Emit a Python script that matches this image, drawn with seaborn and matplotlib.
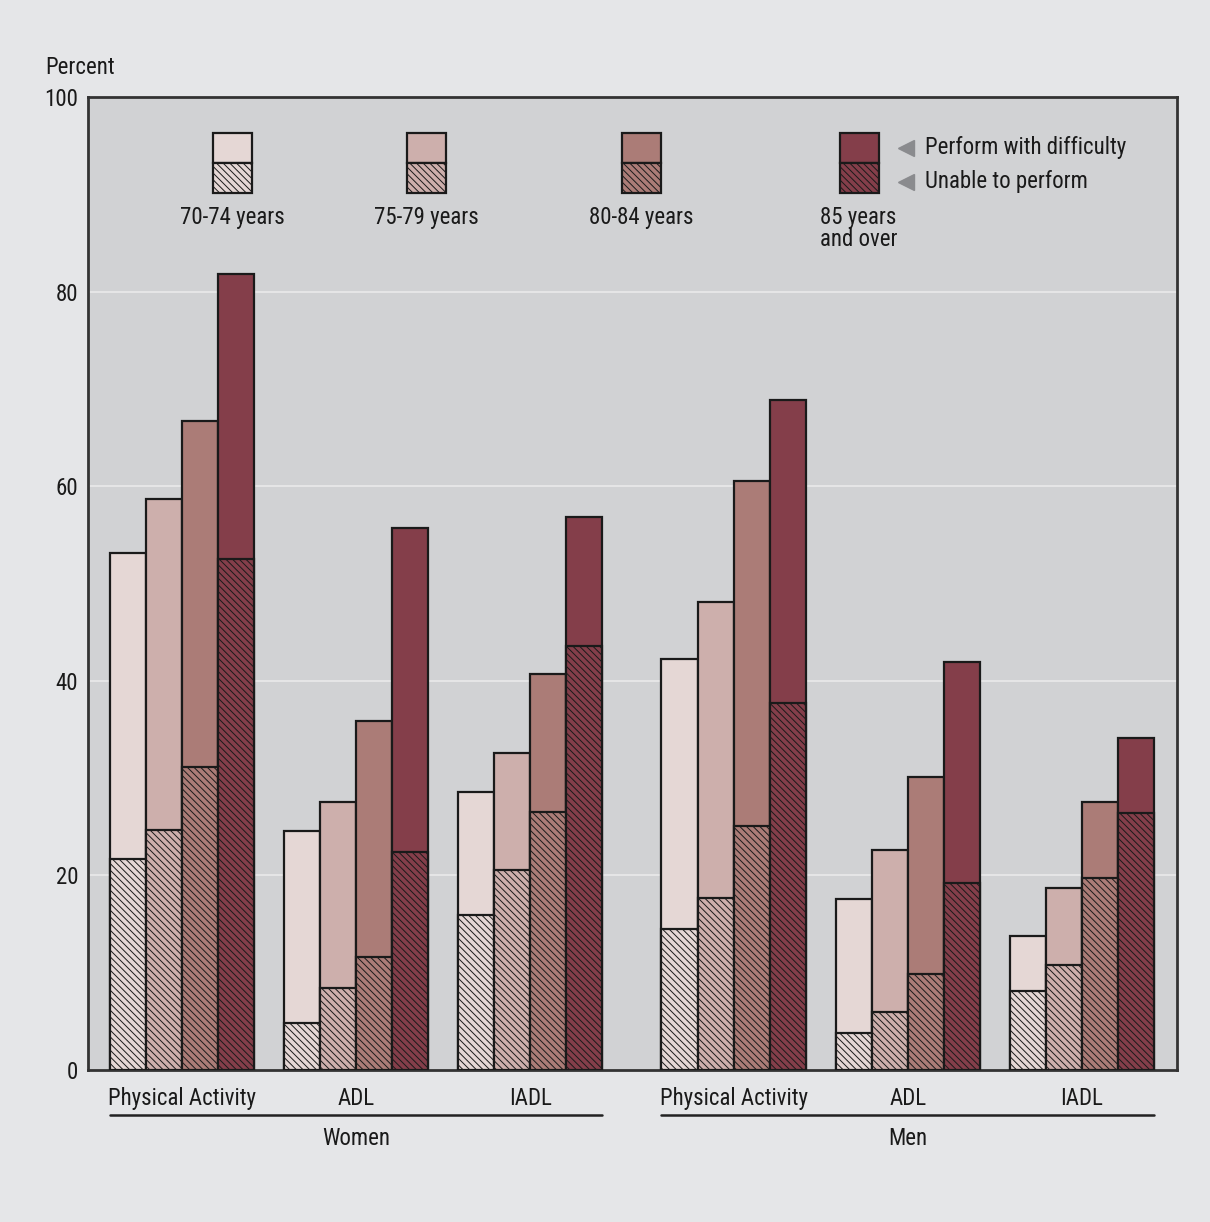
import numpy as np
import pandas as pd
import seaborn as sns
import matplotlib.pyplot as plt
from matplotlib.patches import Rectangle
import matplotlib.transforms as mtransforms

sns.set_theme(style="white")
plt.rcParams['font.family'] = ['Roboto Condensed', 'Archivo Narrow', 'PT Sans Narrow', 'DejaVu Sans']
plt.rcParams['hatch.linewidth'] = 0.7
plt.rcParams['hatch.color'] = '#2a2a2a'

# data (percent)
activities = ["Physical Activity", "ADL", "IADL"]
sexes = ["Women", "Men"]
ages = ["70-74 years", "75-79 years", "80-84 years", "85 years\nand over"]

# total = with difficulty + unable; one row per activity, one column per age group
women_total = [[53.1, 58.7, 66.7, 81.8],
               [24.6, 27.5, 35.9, 55.7],
               [28.6, 32.6, 40.7, 56.8]]
women_unable = [[21.7, 24.7, 31.1, 52.5],
                [4.8, 8.4, 11.6, 22.4],
                [15.9, 20.6, 26.5, 43.6]]
men_total = [[42.2, 48.1, 60.5, 68.9],
             [17.6, 22.6, 30.1, 41.9],
             [13.8, 18.7, 27.5, 34.1]]
men_unable = [[14.5, 17.7, 25.1, 37.7],
              [3.8, 6.0, 9.9, 19.2],
              [8.1, 10.8, 19.7, 26.4]]

colors = ["#e5d7d5", "#cdafac", "#ab7c77", "#843e4a"]

# cluster positions, a bit more room between the two sexes
xpos = [0, 1, 2, 3.167, 4.167, 5.167]

rows = []
k = 0
for sex, tot, una in [("Women", women_total, women_unable), ("Men", men_total, men_unable)]:
    for i, act in enumerate(activities):
        for j, age in enumerate(ages):
            rows.append({"x": xpos[k], "sex": sex, "activity": act, "age": age,
                         "total": tot[i][j], "unable": una[i][j]})
        k += 1
df = pd.DataFrame(rows)

FS = 16.5
TXT = "#1a1a1a"
HATCH = "\\\\\\\\\\"

fig = plt.figure(figsize=(12.1, 12.22), dpi=100)
fig.patch.set_facecolor("#e5e6e8")
ax = fig.add_axes([88 / 1210, 1 - 1070 / 1222, 1089 / 1210, 973 / 1222])
ax.set_facecolor("#d1d2d4")

for yv in [20, 40, 60, 80]:
    ax.axhline(yv, color="#eaeaea", lw=1.2, zorder=0)

pal = dict(zip(ages, colors))
sns.barplot(data=df, x="x", y="total", hue="age", hue_order=ages, palette=pal,
            native_scale=True, width=0.828, saturation=1, edgecolor="#1a1a1a",
            linewidth=1.6, legend=False, ax=ax, zorder=2)
n0 = len(ax.patches)
sns.barplot(data=df, x="x", y="unable", hue="age", hue_order=ages, palette=pal,
            native_scale=True, width=0.828, saturation=1, edgecolor="#1a1a1a",
            linewidth=1.6, legend=False, ax=ax, zorder=3)
for p in ax.patches[n0:]:
    p.set_hatch(HATCH)

ax.set_xlim(-0.54, 5.713)
ax.set_ylim(0, 100)
ax.set_yticks([0, 20, 40, 60, 80, 100])
ax.set_yticklabels(["0", "20", "40", "60", "80", "100"], fontsize=FS)
ax.set_xticks(xpos)
ax.set_xticklabels(activities * 2, fontsize=FS)
ax.tick_params(axis="x", length=0, pad=12, colors=TXT)
ax.tick_params(axis="y", length=0, pad=7, colors=TXT)
ax.set_xlabel("")
ax.set_ylabel("")
for s in ax.spines.values():
    s.set_color("#333333")
    s.set_linewidth(2)

# group lines and labels under the axis
trans = mtransforms.blended_transform_factory(ax.transData, ax.transAxes)
half = 0.828 / 2
for sex, x0, x1 in [("Women", xpos[0], xpos[2]), ("Men", xpos[3], xpos[5])]:
    ax.plot([x0 - half, x1 + half], [-0.046, -0.046], color="#222222", lw=1.8,
            transform=trans, clip_on=False)
    ax.text((x0 + x1) / 2, -0.07, sex, transform=trans, ha="center", va="center",
            fontsize=FS, color=TXT)

fig.text(45 / 1210, 1 - 67 / 1222, "Percent", ha="left", va="center",
         fontsize=FS, color=TXT)

# legend: split boxes per age group
box_x = [0.1148, 0.2929, 0.4904, 0.6906]
bw, bh = 0.0358, 0.0308
for bx, c, lab in zip(box_x, colors, ages):
    ax.add_patch(Rectangle((bx, 0.932), bw, bh, transform=ax.transAxes,
                           facecolor=c, edgecolor="#1a1a1a", lw=1.6, zorder=5))
    ax.add_patch(Rectangle((bx, 0.932 - bh), bw, bh, transform=ax.transAxes,
                           facecolor=c, edgecolor="#1a1a1a", lw=1.6, hatch=HATCH, zorder=5))
    if "\n" in lab:
        ax.text(0.672, 0.888, lab, transform=ax.transAxes, ha="left", va="top",
                fontsize=FS, color=TXT, linespacing=0.95)
    else:
        ax.text(bx + bw / 2, 0.8757, lab, transform=ax.transAxes, ha="center", va="center",
                fontsize=FS, color=TXT)

for yy, lab in [(0.948, "Perform with difficulty"), (0.913, "Unable to perform")]:
    ax.plot([(906 - 88) / 1089], [yy], marker="<", ms=11, color="#8a8b8e",
            transform=ax.transAxes, clip_on=False)
    ax.text((925 - 88) / 1089, yy, lab, transform=ax.transAxes, ha="left", va="center",
            fontsize=FS, color=TXT)

fig.savefig("out.png", dpi=100, facecolor=fig.get_facecolor())
